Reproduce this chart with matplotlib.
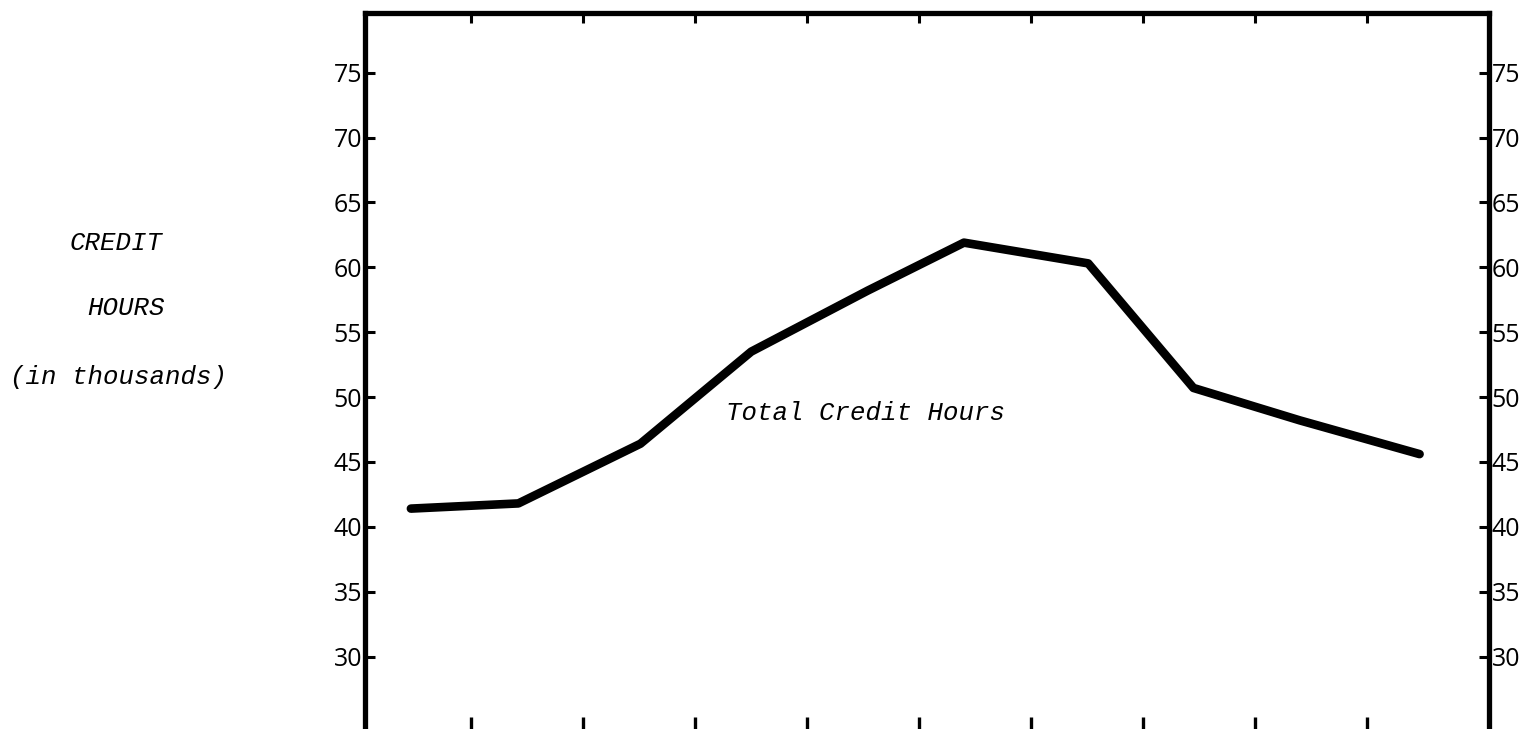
import matplotlib
matplotlib.use("Agg")
import matplotlib.pyplot as plt

# hand drawn chart
x_pos = [0.46, 1.42, 2.51, 3.50, 4.54, 5.40, 6.51, 7.45, 8.40, 9.47]
credit_hours = [41.4, 41.8, 46.4, 53.5, 58.2, 61.9, 60.3, 50.7, 48.2, 45.6]
y_ticks = [30, 35, 40, 45, 50, 55, 60, 65, 70, 75]
x_ticks = [1, 2, 3, 4, 5, 6, 7, 8, 9]

W, H = 1531, 729
fig = plt.figure(figsize=(W / 100, H / 100), dpi=100)
ax = fig.add_axes([365 / W, -0.002, (1489 - 365) / W, 1 - 13 / H + 0.002])

ax.plot(x_pos, credit_hours, color="black", lw=6.2,
        solid_capstyle="round", solid_joinstyle="round")

ax.set_xlim(0.05, 10.09)
ax.set_ylim(24.3, 79.6)
ax.set_xticks(x_ticks)
ax.set_yticks(y_ticks)
ax.set_xticklabels([])
ax.set_yticklabels([str(v) for v in y_ticks])

for s in ax.spines.values():
    s.set_linewidth(3.8)
    s.set_color("black")

# bottom ticks a bit longer than the top ones
ax.tick_params(axis="x", direction="in", top=False, bottom=True,
               length=9.5, width=2.4, labelbottom=False)
top = ax.secondary_xaxis("top")
top.set_xticks(x_ticks)
top.set_xticklabels([])
top.spines["top"].set_visible(False)
top.tick_params(direction="in", length=7, width=2.2)

ax.tick_params(axis="y", direction="in", left=True, right=True,
               labelleft=True, labelright=True, length=7, width=2.2,
               pad=2, labelsize=18)
for lab in ax.get_yticklabels():
    lab.set_family("Open Sans")

mono = dict(family="Liberation Mono", style="italic", fontsize=18.5, color="black")
fig.text(865 / W, 1 - 413 / H, "Total Credit Hours", ha="center", va="center", **mono)

fig.text(70 / W, 1 - 243 / H, "CREDIT", ha="left", va="center", **mono)
fig.text(87 / W, 1 - 308 / H, "HOURS", ha="left", va="center", **mono)
fig.text(10 / W, 1 - 377 / H, "(in thousands)", ha="left", va="center", **mono)

fig.savefig("out.png", dpi=100)
